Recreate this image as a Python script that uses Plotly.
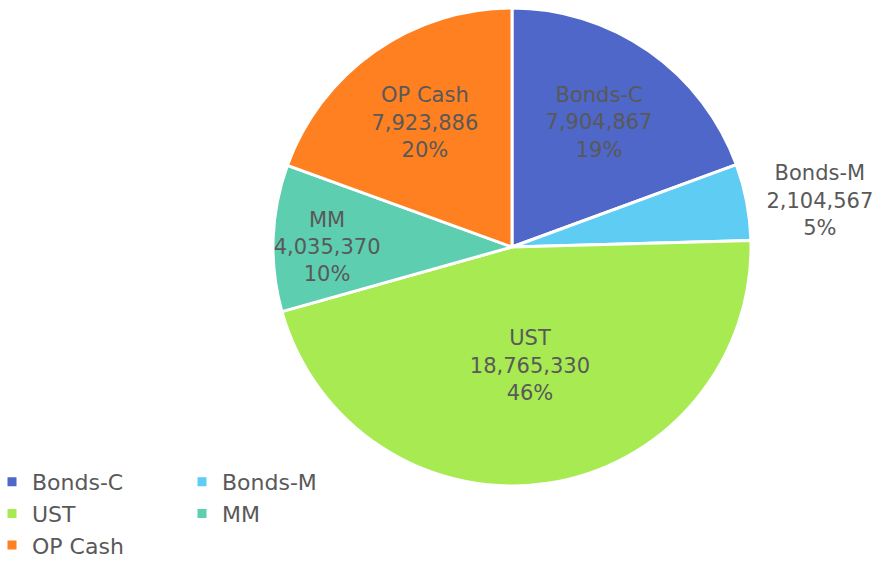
import plotly.graph_objects as go

labels = ["Bonds-C", "Bonds-M", "UST", "MM", "OP Cash"]
values = [7904867, 2104567, 18765330, 4035370, 7923886]
pct_labels = ["19%", "5%", "46%", "10%", "20%"]
colors = ["#4E67C8", "#5ECCF3", "#A7EA52", "#5DCEAF", "#FF8021"]
text_pos = ["inside", "outside", "inside", "inside", "inside"]

W, H = 887, 566
cx, cy, r = 512, 247, 239

fig = go.Figure(go.Pie(
    labels=labels,
    values=values,
    customdata=pct_labels,
    sort=False,
    direction="clockwise",
    rotation=0,
    marker=dict(colors=colors, line=dict(color="white", width=3)),
    texttemplate="%{label}<br>%{value:,}<br>%{customdata}",
    textposition=text_pos,
    insidetextorientation="horizontal",
    textfont=dict(family="DejaVu Sans", size=21, color="#595959"),
    outsidetextfont=dict(family="DejaVu Sans", size=21, color="#595959"),
    hoverinfo="label+value+percent",
    domain=dict(x=[(cx - r) / W, (cx + r) / W],
                y=[(H - cy - r) / H, (H - cy + r) / H]),
))

fig.update_layout(
    width=W, height=H,
    margin=dict(l=0, r=0, t=0, b=0, autoexpand=False),
    paper_bgcolor="white",
    plot_bgcolor="white",
    font=dict(family="DejaVu Sans", size=21, color="#595959"),
    uniformtext=dict(minsize=21, mode="show"),
    legend=dict(
        orientation="h",
        x=-8 / W, xanchor="left",
        y=0.0, yanchor="bottom",
        entrywidth=145, entrywidthmode="pixels",
        font=dict(family="DejaVu Sans", size=22, color="#595959"),
        traceorder="normal",
    ),
    showlegend=True,
)

fig.write_html("out.html")
